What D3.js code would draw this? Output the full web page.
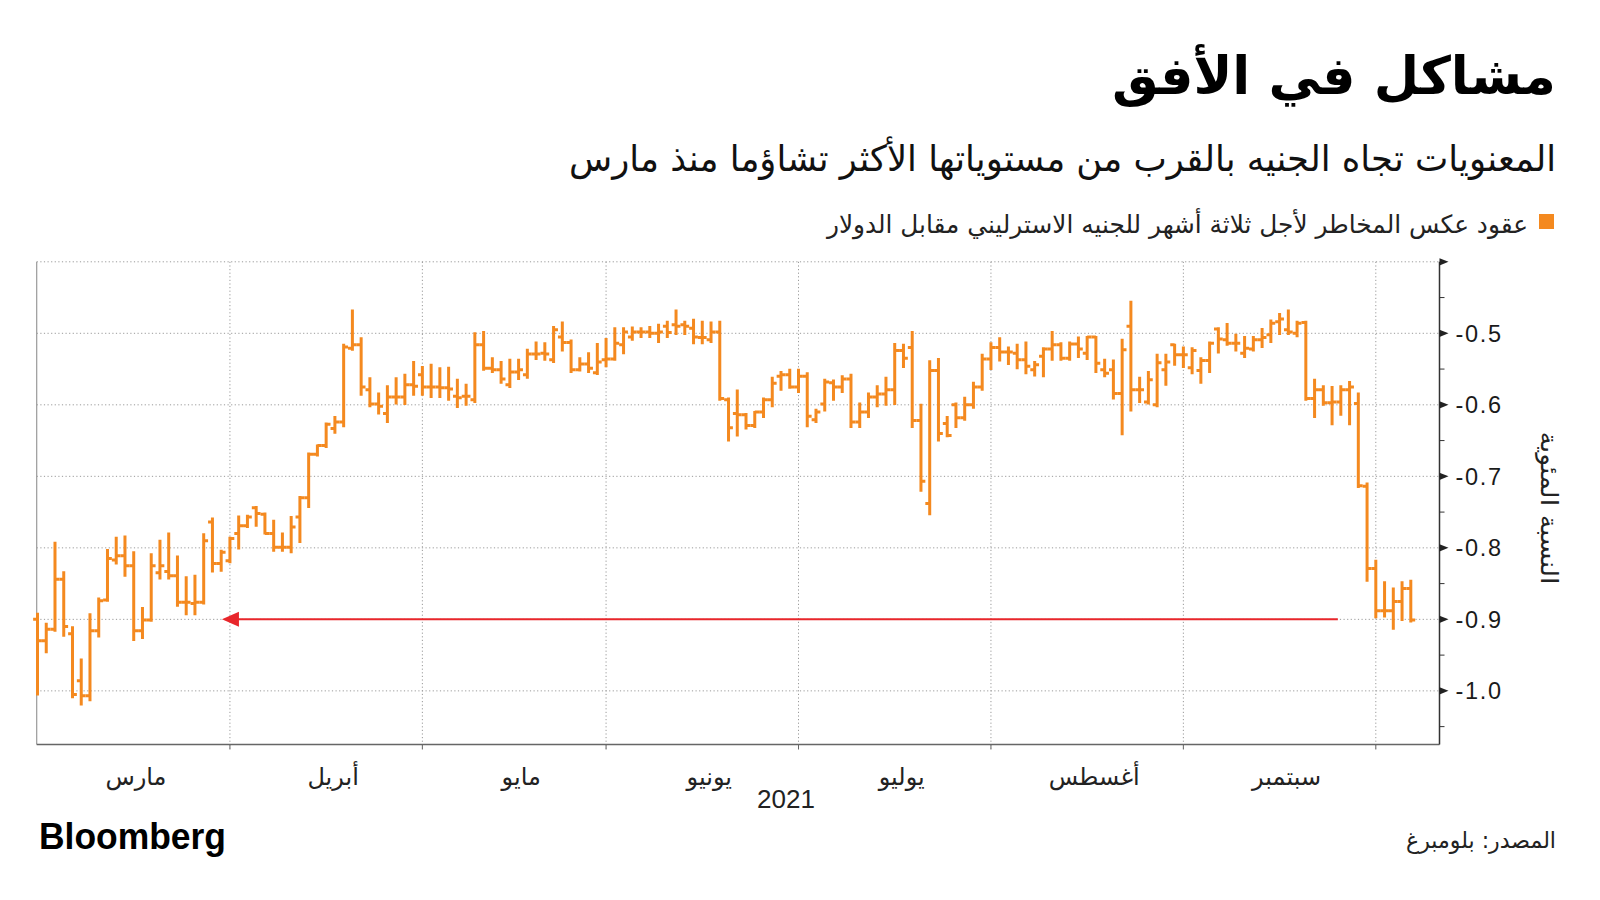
<!DOCTYPE html>
<html><head><meta charset="utf-8">
<script src="https://cdn.jsdelivr.net/npm/d3@7"></script>
<style>
html,body{margin:0;padding:0;background:#fff;}
svg{display:block;}
</style></head><body>
<svg id="chart" width="1600" height="900"></svg>
<script>
// ---------- data ----------
const startDate = "2021-03-02";
const endDate = "2021-10-07";

const openV = [-0.900,-0.930,-0.914,-0.844,-0.920,-0.986,-1.007,-0.916,-0.873,-0.817,
-0.811,-0.825,-0.916,-0.901,-0.835,-0.833,-0.839,-0.876,-0.878,-0.876,
-0.764,-0.822,-0.818,-0.780,-0.769,-0.744,-0.753,-0.780,-0.799,-0.799,
-0.757,-0.730,-0.669,-0.657,-0.633,-0.624,-0.521,-0.516,-0.579,-0.599,
-0.612,-0.589,-0.589,-0.572,-0.558,-0.575,-0.575,-0.576,-0.588,-0.588,
-0.593,-0.516,-0.549,-0.551,-0.572,-0.554,-0.558,-0.529,-0.528,-0.537,
-0.505,-0.513,-0.551,-0.543,-0.555,-0.537,-0.536,-0.516,-0.505,-0.498,
-0.498,-0.500,-0.490,-0.488,-0.488,-0.493,-0.506,-0.509,-0.498,-0.593,
-0.612,-0.614,-0.629,-0.610,-0.593,-0.560,-0.558,-0.575,-0.560,-0.621,
-0.599,-0.569,-0.575,-0.564,-0.624,-0.610,-0.589,-0.585,-0.579,-0.524,
-0.520,-0.622,-0.738,-0.552,-0.626,-0.600,-0.618,-0.600,-0.575,-0.536,
-0.520,-0.526,-0.528,-0.537,-0.551,-0.532,-0.522,-0.516,-0.535,-0.515,
-0.528,-0.505,-0.551,-0.551,-0.584,-0.490,-0.579,-0.596,-0.600,-0.551,
-0.516,-0.530,-0.548,-0.552,-0.538,-0.494,-0.509,-0.514,-0.528,-0.522,
-0.509,-0.502,-0.484,-0.495,-0.500,-0.485,-0.591,-0.579,-0.597,-0.596,
-0.579,-0.598,-0.714,-0.829,-0.888,-0.888,-0.875,-0.857];

const highV = [-0.892,-0.906,-0.793,-0.834,-0.911,-0.956,-0.893,-0.871,-0.803,-0.786,
-0.784,-0.806,-0.884,-0.809,-0.790,-0.780,-0.812,-0.841,-0.839,-0.781,
-0.759,-0.804,-0.786,-0.756,-0.755,-0.743,-0.752,-0.762,-0.780,-0.757,
-0.729,-0.668,-0.657,-0.626,-0.617,-0.516,-0.468,-0.507,-0.563,-0.584,
-0.574,-0.563,-0.558,-0.540,-0.547,-0.544,-0.549,-0.548,-0.565,-0.572,
-0.500,-0.498,-0.535,-0.540,-0.537,-0.537,-0.523,-0.513,-0.514,-0.491,
-0.485,-0.510,-0.535,-0.528,-0.515,-0.508,-0.493,-0.493,-0.492,-0.493,
-0.491,-0.488,-0.484,-0.468,-0.484,-0.481,-0.484,-0.485,-0.484,-0.591,
-0.580,-0.613,-0.610,-0.591,-0.562,-0.554,-0.551,-0.551,-0.556,-0.607,
-0.565,-0.566,-0.560,-0.558,-0.598,-0.584,-0.574,-0.562,-0.515,-0.516,
-0.498,-0.600,-0.539,-0.536,-0.617,-0.598,-0.590,-0.569,-0.530,-0.514,
-0.507,-0.520,-0.516,-0.513,-0.540,-0.521,-0.498,-0.514,-0.513,-0.506,
-0.505,-0.505,-0.537,-0.538,-0.509,-0.456,-0.562,-0.554,-0.530,-0.530,
-0.516,-0.520,-0.521,-0.535,-0.513,-0.493,-0.487,-0.502,-0.505,-0.505,
-0.494,-0.482,-0.473,-0.468,-0.484,-0.484,-0.565,-0.574,-0.575,-0.574,
-0.568,-0.584,-0.710,-0.818,-0.848,-0.857,-0.848,-0.846];

const lowV = [-1.005,-0.946,-0.916,-0.923,-1.009,-1.019,-1.013,-0.924,-0.874,-0.822,
-0.839,-0.929,-0.926,-0.902,-0.843,-0.843,-0.881,-0.893,-0.893,-0.878,
-0.833,-0.832,-0.820,-0.801,-0.771,-0.769,-0.780,-0.804,-0.804,-0.806,
-0.792,-0.743,-0.671,-0.659,-0.639,-0.630,-0.523,-0.586,-0.602,-0.612,
-0.624,-0.598,-0.599,-0.586,-0.586,-0.589,-0.589,-0.593,-0.603,-0.600,
-0.596,-0.551,-0.554,-0.569,-0.575,-0.564,-0.562,-0.536,-0.537,-0.540,
-0.524,-0.554,-0.552,-0.554,-0.557,-0.546,-0.537,-0.528,-0.509,-0.505,
-0.505,-0.512,-0.505,-0.501,-0.501,-0.514,-0.514,-0.512,-0.593,-0.650,
-0.643,-0.633,-0.631,-0.617,-0.602,-0.579,-0.576,-0.582,-0.630,-0.624,
-0.608,-0.593,-0.582,-0.631,-0.631,-0.617,-0.602,-0.600,-0.599,-0.547,
-0.631,-0.720,-0.753,-0.650,-0.644,-0.631,-0.621,-0.604,-0.579,-0.550,
-0.538,-0.543,-0.549,-0.556,-0.559,-0.560,-0.537,-0.537,-0.537,-0.533,
-0.536,-0.554,-0.560,-0.591,-0.641,-0.608,-0.596,-0.598,-0.602,-0.572,
-0.544,-0.547,-0.556,-0.569,-0.554,-0.527,-0.516,-0.524,-0.533,-0.524,
-0.519,-0.512,-0.501,-0.501,-0.504,-0.593,-0.617,-0.600,-0.627,-0.614,
-0.627,-0.715,-0.846,-0.897,-0.896,-0.913,-0.901,-0.903];

const closeV = [-0.930,-0.914,-0.844,-0.910,-1.005,-1.007,-0.916,-0.874,-0.815,-0.811,
-0.825,-0.916,-0.901,-0.825,-0.825,-0.839,-0.876,-0.876,-0.876,-0.790,
-0.822,-0.806,-0.787,-0.769,-0.757,-0.752,-0.780,-0.799,-0.799,-0.771,
-0.730,-0.669,-0.657,-0.627,-0.624,-0.519,-0.516,-0.575,-0.599,-0.602,
-0.589,-0.589,-0.572,-0.574,-0.575,-0.575,-0.576,-0.578,-0.590,-0.588,
-0.516,-0.549,-0.551,-0.564,-0.554,-0.551,-0.529,-0.529,-0.529,-0.495,
-0.513,-0.551,-0.543,-0.549,-0.540,-0.536,-0.514,-0.498,-0.498,-0.498,
-0.500,-0.498,-0.499,-0.490,-0.490,-0.505,-0.506,-0.498,-0.591,-0.632,
-0.614,-0.629,-0.610,-0.593,-0.570,-0.558,-0.575,-0.560,-0.616,-0.610,
-0.568,-0.575,-0.564,-0.624,-0.610,-0.589,-0.585,-0.579,-0.524,-0.535,
-0.622,-0.707,-0.552,-0.640,-0.643,-0.618,-0.600,-0.575,-0.536,-0.520,
-0.526,-0.526,-0.537,-0.546,-0.544,-0.522,-0.516,-0.535,-0.515,-0.522,
-0.505,-0.542,-0.556,-0.584,-0.523,-0.579,-0.579,-0.565,-0.541,-0.540,
-0.530,-0.530,-0.524,-0.538,-0.514,-0.508,-0.514,-0.514,-0.521,-0.509,
-0.506,-0.486,-0.480,-0.498,-0.486,-0.591,-0.579,-0.597,-0.596,-0.579,
-0.575,-0.713,-0.829,-0.888,-0.888,-0.875,-0.857,-0.901];

const monthLabels = ["مارس","أبريل","مايو","يونيو","يوليو","أغسطس","سبتمبر"];
const yearLabel = "2021";
const yMajorTicks = [-0.4,-0.5,-0.6,-0.7,-0.8,-0.9,-1.0];
const yTickLabels = ["","-0.5","-0.6","-0.7","-0.8","-0.9","-1.0"];
const yMinorTicks = [-0.45,-0.55,-0.65,-0.75,-0.85,-0.95,-1.05];
const arrowLevel = -0.9;
const arrowFromDate = "2021-09-27";
const arrowToDate = "2021-04-01";

const titleText = "مشاكل في الأفق";
const subtitleText = "المعنويات تجاه الجنيه بالقرب من مستوياتها الأكثر تشاؤما منذ مارس";
const legendText = "عقود عكس المخاطر لأجل ثلاثة أشهر للجنيه الاسترليني مقابل الدولار";
const yAxisTitle = "النسبة المئوية";
const sourceText = "المصدر: بلومبرغ";
const brandText = "Bloomberg";

// ---------- build ----------
const ORANGE = "#f4891f";
const AR = "'DejaVu Sans', sans-serif";
const parse = d3.utcParse("%Y-%m-%d");
const fmt = d3.utcFormat("%Y-%m-%d");
const dates = d3.utcDay.range(parse(startDate), d3.utcDay.offset(parse(endDate), 1))
  .filter(d => d.getUTCDay() !== 0 && d.getUTCDay() !== 6);
const bars = dates.map((d, i) => ({d, i, o: openV[i], h: highV[i], l: lowV[i], c: closeV[i]}));

const svg = d3.select("#chart");
const L = 36.7, R = 1439.5, T = 261.8, B = 744.5;
const x = d3.scalePoint().domain(d3.range(dates.length)).range([37.5, 1410.8]);
const step = x.step();
const y = d3.scaleLinear().domain([-1.075, -0.4]).range([B, T]);

// month boundaries
const monthStarts = [];
dates.forEach((d, i) => { if (i > 0 && d.getUTCMonth() !== dates[i-1].getUTCMonth()) monthStarts.push(i); });

// horizontal gridlines
svg.append("g").selectAll("line").data(yMajorTicks).join("line")
  .attr("x1", L).attr("x2", R).attr("y1", d => y(d)).attr("y2", d => y(d))
  .attr("stroke", "#9a9a9a").attr("stroke-width", 1).attr("stroke-dasharray", "1.2,2.4");
// vertical gridlines
svg.append("g").selectAll("line").data(monthStarts).join("line")
  .attr("x1", i => x(i)).attr("x2", i => x(i)).attr("y1", T).attr("y2", B + 4)
  .attr("stroke", "#9a9a9a").attr("stroke-width", 1).attr("stroke-dasharray", "1.2,2.4");
svg.append("g").selectAll("line").data(monthStarts).join("line")
  .attr("x1", i => x(i)).attr("x2", i => x(i)).attr("y1", B).attr("y2", B + 5)
  .attr("stroke", "#666").attr("stroke-width", 1);

// left & bottom axis lines
svg.append("line").attr("x1", L).attr("x2", L).attr("y1", T).attr("y2", B)
  .attr("stroke", "#9a9a9a").attr("stroke-width", 1.2);
svg.append("line").attr("x1", L).attr("x2", R).attr("y1", B).attr("y2", B)
  .attr("stroke", "#666").attr("stroke-width", 1.5);

// right axis
const ax = svg.append("g");
ax.append("line").attr("x1", R).attr("x2", R).attr("y1", T).attr("y2", B)
  .attr("stroke", "#333").attr("stroke-width", 1.5);
ax.selectAll("path.maj").data(yMajorTicks).join("path").attr("class", "maj")
  .attr("d", d => `M${R},${y(d)-3.6}L${R+9},${y(d)}L${R},${y(d)+3.6}Z`)
  .attr("fill", "#222");
ax.selectAll("line.min").data(yMinorTicks).join("line").attr("class", "min")
  .attr("x1", R).attr("x2", R + 5).attr("y1", d => y(d)).attr("y2", d => y(d))
  .attr("stroke", "#333").attr("stroke-width", 1);
ax.selectAll("text").data(yMajorTicks).join("text")
  .attr("x", R + 16).attr("y", d => y(d)).attr("dy", "0.36em")
  .attr("font-family", "'Liberation Sans', Arial, sans-serif").attr("font-size", 23.5)
  .attr("letter-spacing", 1.7).attr("fill", "#1a1a1a")
  .text((d, i) => yTickLabels[i]);

// arrow annotation
const iFrom = dates.findIndex(d => fmt(d) === arrowFromDate);
const iTo = dates.findIndex(d => fmt(d) === arrowToDate);
const ay = y(arrowLevel);
const xTip = x(iTo) - 8;
svg.append("line").attr("x1", x(iFrom) - 3).attr("x2", xTip + 14).attr("y1", ay).attr("y2", ay)
  .attr("stroke", "#e8262b").attr("stroke-width", 2);
svg.append("path").attr("d", `M${xTip},${ay}L${xTip+17},${ay-7.5}L${xTip+17},${ay+7.5}Z`)
  .attr("fill", "#e8262b");

// OHLC bars
const hw = step * 0.5;
const g = svg.append("g").attr("stroke", ORANGE).attr("stroke-width", 3).attr("fill", "none")
  .attr("stroke-linecap", "butt");
g.selectAll("path").data(bars).join("path")
  .attr("d", b => {
    const cx = x(b.i);
    return `M${cx},${y(b.h)-1}V${y(b.l)+1}` +
           `M${cx-hw},${y(b.o)}H${cx}` +
           `M${cx},${y(b.c)}H${cx+hw}`;
  });

// month labels
const bounds = [monthStarts[0] - (monthStarts[1] - monthStarts[0])].concat(monthStarts);
svg.append("g").selectAll("text").data(monthLabels).join("text")
  .attr("x", (d, k) => {
    const a = k === 0 ? x(0) - step * 1.1 : x(bounds[k]);
    const b = x(bounds[k + 1]);
    return (a + b) / 2 + 7;
  })
  .attr("y", 785).attr("text-anchor", "middle")
  .attr("font-family", AR).attr("font-size", 24).attr("fill", "#222")
  .text(d => d);
svg.append("text").attr("x", 786).attr("y", 808).attr("text-anchor", "middle")
  .attr("font-family", "'Liberation Sans', Arial, sans-serif").attr("font-size", 26)
  .attr("fill", "#222").text(yearLabel);

// y axis title
svg.append("text").attr("transform", "translate(1541,508) rotate(90)")
  .attr("text-anchor", "middle").attr("font-family", AR).attr("font-size", 24)
  .attr("textLength", 153).attr("lengthAdjust", "spacingAndGlyphs")
  .attr("fill", "#222").text(yAxisTitle);

// header: title sized to fit its width in the reference
const title = svg.append("text").attr("x", 1556).attr("y", 94).attr("text-anchor", "end")
  .attr("font-family", AR).attr("font-weight", "bold").attr("font-size", 50)
  .attr("fill", "#000").text(titleText);
const tw = title.node().getComputedTextLength();
if (tw > 0) title.attr("font-size", Math.min(58, 50 * 444 / tw));

svg.append("text").attr("x", 1556).attr("y", 171).attr("text-anchor", "end")
  .attr("font-family", AR).attr("font-size", 36)
  .attr("textLength", 987).attr("lengthAdjust", "spacingAndGlyphs")
  .attr("fill", "#111").text(subtitleText);
svg.append("rect").attr("x", 1539).attr("y", 214).attr("width", 15).attr("height", 15).attr("fill", ORANGE);
svg.append("text").attr("x", 1528).attr("y", 233).attr("text-anchor", "end")
  .attr("font-family", AR).attr("font-size", 25)
  .attr("textLength", 701).attr("lengthAdjust", "spacingAndGlyphs")
  .attr("fill", "#222").text(legendText);

// footer
svg.append("text").attr("x", 39).attr("y", 849)
  .attr("font-family", "'Liberation Sans', Arial, sans-serif").attr("font-weight", "bold")
  .attr("font-size", 36).attr("textLength", 187).attr("lengthAdjust", "spacingAndGlyphs")
  .attr("fill", "#000").text(brandText);
svg.append("text").attr("x", 1556).attr("y", 848).attr("text-anchor", "end")
  .attr("font-family", AR).attr("font-size", 23)
  .attr("textLength", 150).attr("lengthAdjust", "spacingAndGlyphs")
  .attr("fill", "#222").text(sourceText);
</script>
</body></html>
